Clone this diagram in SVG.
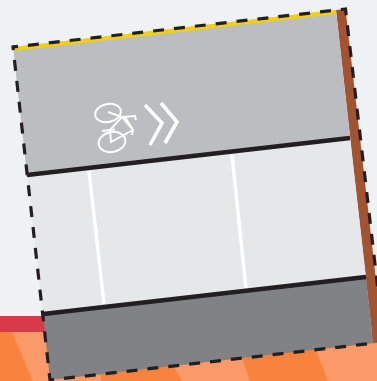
<svg xmlns="http://www.w3.org/2000/svg" width="377" height="381" viewBox="0 0 377 381">
<style>
.lane{stroke:#231f20;stroke-width:4.6;fill:none}
.mark{stroke:#fff;fill:none}
.bike{stroke:#fff;fill:none;stroke-width:1.9}
</style>
<rect width="377" height="381" fill="#eef2f4"/>
<rect x="0" y="316" width="60" height="16.500" fill="#d83a49"/>
<rect x="0" y="332" width="377" height="49" fill="#f8833f"/>
<polygon points="12,332 48,332 52,381 33,381" fill="#f99a68"/>
<polygon points="50,379 100,374 102,381 50,381" fill="#f99a68"/>
<polygon points="173,366 242,358 250,381 182,381" fill="#f99a68"/>
<polygon points="316,350 377,343 377,381 328,381" fill="#f99a68"/>
<polygon points="336,10 345.500,9 383,342 373,343" fill="#a25432"/>
<polygon points="13,47 336,10 350,138 27,175" fill="#bcbdc0"/>
<polygon points="27,175 350,138 366,277 43,314" fill="#e6e7e8"/>
<polygon points="43,314 366,277 373,343 50,380" fill="#808285"/>
<line x1="13.500" y1="49" x2="336" y2="12" stroke="#f4cf10" stroke-width="4"/>
<g id="markings">
<line class="mark" x1="89" y1="171" x2="104" y2="304" stroke-width="3.500"/>
<line class="mark" x1="232" y1="155" x2="246" y2="288" stroke-width="3.500"/>
<path class="mark" stroke-width="3.600" d="M145,105 L162,123 L150,145"/>
<path class="mark" stroke-width="3.600" d="M161,103 L177,122 L165,143"/>
</g>
<g id="bike">
<ellipse class="bike" cx="108" cy="113" rx="13" ry="9" transform="rotate(-12 108 113)"/>
<ellipse class="bike" cx="112" cy="142" rx="13.500" ry="10" transform="rotate(-12 112 142)"/>
<path class="bike" d="M108,112 L122,117 L110,130 L111,142 L133,130 L122,117 L135,116 L136,120 M125,117 L133,130 L132,135 M102,131 L115,129.500"/>
</g>
<g id="connectors">
<line class="lane" x1="27" y1="175" x2="350" y2="138"/>
<line class="lane" x1="43" y1="314" x2="366" y2="277"/>
<polygon points="13,47 345.500,9 384,342 50,380" fill="none" stroke="#231f20" stroke-width="3.200" stroke-dasharray="11 10" stroke-dashoffset="6"/>
</g>
</svg>
